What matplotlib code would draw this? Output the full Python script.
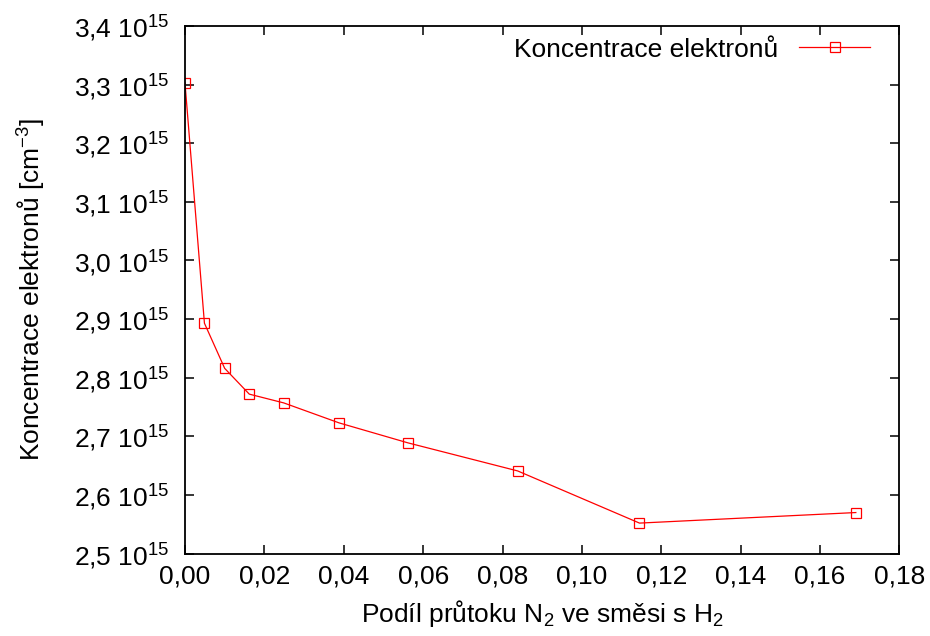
import matplotlib
matplotlib.use('Agg')
import matplotlib.pyplot as plt
from matplotlib.ticker import FuncFormatter, MultipleLocator

plt.rcParams['font.family'] = ['Liberation Sans', 'DejaVu Sans']
plt.rcParams['mathtext.fontset'] = 'custom'
plt.rcParams['mathtext.rm'] = 'Liberation Sans'
plt.rcParams['mathtext.it'] = 'Liberation Sans'
plt.rcParams['font.size'] = 19

# podil prutoku N2 a koncentrace elektronu (v 1e15 cm^-3)
podil_n2 = [0.0, 0.0049, 0.0100, 0.0162, 0.0249, 0.0388, 0.0561, 0.0838, 0.1145, 0.1690]
koncentrace = [3.303, 2.893, 2.816, 2.772, 2.757, 2.723, 2.689, 2.641, 2.552, 2.570]

fig = plt.figure(figsize=(9.3, 6.36), dpi=100)
ax = fig.add_axes([0.1989, 0.1296, 0.7683, 0.8295])

ax.plot(podil_n2, koncentrace, color='#ff0000', lw=0.9, marker='s', ms=6.8,
        mfc='none', mec='#ff0000', mew=0.9, label='Koncentrace elektronů')

ax.set_xlim(0, 0.18)
ax.set_ylim(2.5, 3.4)
ax.xaxis.set_major_locator(MultipleLocator(0.02))
ax.yaxis.set_major_locator(MultipleLocator(0.1))
ax.xaxis.set_major_formatter(FuncFormatter(lambda v, p: f'{v:.2f}'.replace('.', ',')))
ax.yaxis.set_major_formatter(FuncFormatter(lambda v, p: f'{v:.1f}'.replace('.', ',') + r' 10$^{15}$'))

ax.tick_params(direction='in', length=6.5, width=1.1, top=True, right=True)
ax.tick_params(axis='x', pad=8)
ax.tick_params(axis='y', pad=11)
for s in ax.spines.values():
    s.set_linewidth(1.3)

ax.set_xlabel(r'Podíl průtoku N$_2$ ve směsi s H$_2$', labelpad=7)
ax.set_ylabel(r'Koncentrace elektronů [cm$^{-3}$]', labelpad=19)

ax.legend(loc='upper right', bbox_to_anchor=(0.9737, 0.998), frameon=False,
          markerfirst=False, handlelength=2.7, handletextpad=0.8,
          borderaxespad=0, fontsize=19)

fig.savefig('out.png', dpi=100)
